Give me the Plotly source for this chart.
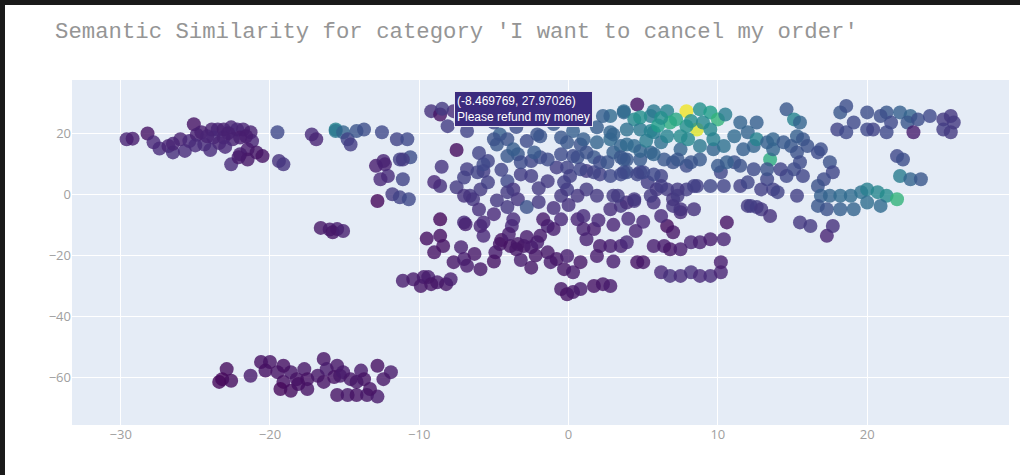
import plotly.graph_objects as go

# (x, y, similarity), grouped by region
far_left = [
    (-29.6, 18.0, 0.10), (-29.2, 18.2, 0.08), (-28.2, 19.9, 0.05), (-27.4, 15.0, 0.12), (-26.8, 15.8, 0.10),
    (-26.5, 13.7, 0.13), (-26.0, 18.0, 0.09), (-25.7, 14.2, 0.12), (-25.4, 17.4, 0.11), (-25.1, 22.9, 0.05),
    (-24.6, 20.3, 0.08), (-24.4, 16.3, 0.12), (-23.9, 21.2, 0.09), (-23.5, 21.2, 0.10), (-23.8, 18.6, 0.11),
    (-23.1, 21.2, 0.09), (-22.6, 21.9, 0.10), (-22.2, 21.2, 0.11), (-21.8, 21.2, 0.10), (-21.3, 20.3, 0.09),
    (-21.2, 17.4, 0.10), (-22.0, 18.6, 0.08), (-22.5, 18.0, 0.09), (-23.1, 18.6, 0.10), (-21.5, 14.7, 0.07),
    (-20.9, 13.7, 0.06), (-22.0, 13.1, 0.08), (-21.5, 11.4, 0.06), (-22.6, 9.8, 0.12), (-22.1, 12.1, 0.07),
    (-19.5, 20.3, 0.22), (-19.4, 10.9, 0.14), (-19.1, 9.8, 0.15), (-24.9, 19.5, 0.09), (-23.4, 16.8, 0.10),
    (-20.5, 12.5, 0.05), (-24.2, 19.0, 0.10), (-22.8, 20.0, 0.09), (-21.6, 19.0, 0.08), (-23.0, 15.5, 0.11),
    (-24.0, 14.5, 0.12), (-26.5, 16.5, 0.10), (-27.8, 17.0, 0.11), (-25.0, 16.0, 0.12),
]

mid_left = [
    (-17.2, 19.6, 0.12), (-16.9, 18.0, 0.10), (-15.6, 21.2, 0.45), (-15.6, 20.7, 0.40), (-15.1, 20.3, 0.32),
    (-14.8, 18.0, 0.20), (-14.6, 16.3, 0.18), (-14.2, 20.7, 0.26), (-13.7, 21.2, 0.24), (-12.5, 20.3, 0.22),
    (-11.5, 18.0, 0.20), (-10.8, 18.0, 0.22), (-11.3, 11.4, 0.19), (-10.6, 12.1, 0.24), (-12.9, 9.3, 0.08),
    (-12.4, 10.9, 0.10), (-12.3, 9.8, 0.09), (-12.1, 6.0, 0.12), (-12.6, 4.9, 0.11), (-11.1, 4.9, 0.20),
    (-12.8, -2.2, 0.02), (-11.8, 0.0, 0.17), (-11.3, -1.0, 0.20), (-10.7, -1.6, 0.22), (-11.1, 11.4, 0.17),
    (-16.6, -11.0, 0.06), (-16.0, -11.5, 0.07), (-15.5, -11.4, 0.08), (-15.8, -12.4, 0.06), (-15.1, -12.0, 0.09),
]

low_left = [
    (-11.1, -28.3, 0.08), (-10.4, -27.8, 0.07), (-9.9, -30.0, 0.06), (-9.4, -27.1, 0.08), (-8.8, -28.8, 0.07),
    (-8.2, -29.4, 0.06), (-7.9, -27.8, 0.08), (-9.7, -27.1, 0.07), (-9.2, -29.4, 0.06),
]

bottom = [
    (-22.9, -57.2, 0.03), (-23.2, -60.5, 0.02), (-22.6, -61.0, 0.03), (-23.4, -61.4, 0.02), (-21.3, -59.4, 0.07),
    (-20.6, -54.9, 0.04), (-20.0, -54.9, 0.05), (-20.3, -57.7, 0.04), (-19.5, -58.2, 0.05), (-19.1, -61.4, 0.04),
    (-19.3, -63.7, 0.02), (-18.6, -64.3, 0.03), (-18.6, -58.2, 0.06), (-18.2, -60.5, 0.05), (-17.7, -57.2, 0.06),
    (-17.5, -60.5, 0.04), (-17.5, -63.7, 0.05), (-16.8, -59.4, 0.06), (-16.4, -53.9, 0.05), (-16.2, -57.2, 0.07),
    (-15.5, -56.1, 0.06), (-15.7, -59.8, 0.05), (-15.3, -59.4, 0.06), (-15.1, -58.2, 0.07), (-14.6, -60.5, 0.06),
    (-13.9, -57.7, 0.07), (-13.7, -60.5, 0.05), (-14.2, -61.4, 0.06), (-12.8, -56.1, 0.04), (-11.9, -58.2, 0.07),
    (-12.4, -60.5, 0.06), (-15.5, -65.7, 0.05), (-14.8, -65.7, 0.06), (-14.2, -65.7, 0.05), (-13.5, -65.7, 0.06),
    (-12.8, -66.2, 0.07), (-13.3, -63.7, 0.05), (-19.1, -56.1, 0.04), (-16.4, -61.4, 0.05), (-18.1, -62.1, 0.04),
]

center = [
    (-9.2, 27.2, 0.14), (-8.6, 26.1, 0.05), (-7.7, 27.2, 0.12), (-8.47, 27.97, 0.17), (-8.1, 22.3, 0.18),
    (-6.8, 20.7, 0.20), (-7.5, 14.5, 0.03), (-4.6, 19.6, 0.30), (-4.8, 16.3, 0.27), (-4.1, 18.0, 0.25),
    (-3.4, 13.1, 0.27), (-2.8, 17.4, 0.23), (-2.1, 19.6, 0.25), (-2.5, 10.9, 0.21), (-1.9, 12.1, 0.23),
    (-3.2, 6.5, 0.18), (-4.1, 4.3, 0.22), (-5.4, 10.9, 0.20), (-5.7, 7.6, 0.18), (-0.5, 18.6, 0.27),
    (0.3, 20.7, 0.30), (0.8, 16.3, 0.25), (-0.5, 13.1, 0.23), (-0.8, 8.8, 0.18), (-0.1, 8.8, 0.20),
    (0.6, 12.1, 0.25), (1.7, 12.1, 0.27), (1.2, 7.6, 0.17), (2.1, 6.5, 0.19), (1.9, 21.9, 0.29),
    (-1.4, 4.3, 0.17), (-0.3, 3.9, 0.19), (-5.0, 18.0, 0.25), (-4.1, 12.5, 0.27), (-3.7, 14.7, 0.29),
    (-3.2, 10.5, 0.23), (-2.3, 13.7, 0.28), (-1.9, 19.0, 0.26), (-1.4, 11.4, 0.23), (-2.5, 6.0, 0.18),
    (-8.6, 2.7, 0.14), (-7.5, 2.3, 0.17), (-6.8, 8.2, 0.18), (-6.1, 7.2, 0.20), (-6.6, -0.5, 0.16),
    (-5.9, 1.6, 0.17), (-5.4, 3.9, 0.19), (-5.7, 9.8, 0.22), (-7.0, 5.5, 0.19), (-6.4, -1.6, 0.15),
    (-7.0, -0.5, 0.14), (-3.7, 1.6, 0.15), (-4.1, 0.7, 0.17), (-3.4, -1.6, 0.15), (-2.8, -4.2, 0.25),
    (-4.1, -4.2, 0.16), (-3.7, -8.2, 0.12), (-3.8, -10.4, 0.11), (-8.6, -8.2, 0.02), (-7.0, -9.2, 0.12),
    (-8.6, -13.6, 0.04), (-8.4, -16.9, 0.05), (-7.2, -17.3, 0.09), (-5.7, -13.6, 0.11), (-5.9, -10.4, 0.10),
    (-5.7, -9.2, 0.11), (-6.9, -9.8, 0.09), (-7.7, -22.2, 0.06), (-7.0, -21.2, 0.08), (-6.8, -23.4, 0.07),
    (-5.9, -24.5, 0.06), (-4.9, -19.0, 0.07), (-4.6, -16.3, 0.06), (-3.9, -16.9, 0.05), (-3.4, -16.3, 0.06),
    (-3.0, -16.9, 0.06), (-2.5, -17.3, 0.07), (-2.1, -15.7, 0.08), (-4.5, -15.0, 0.05), (-3.5, -18.0, 0.06),
    (-2.8, -14.0, 0.07), (-4.0, -13.0, 0.08), (-1.4, -10.4, 0.09), (-1.7, -8.2, 0.07), (-0.5, -8.2, 0.11),
    (-1.0, -11.4, 0.08), (-1.9, -13.6, 0.07), (-1.4, -19.0, 0.06), (-1.2, -22.2, 0.07), (-0.8, -21.2, 0.06),
    (-0.3, -24.5, 0.06), (-0.1, -20.2, 0.08), (0.3, -25.5, 0.07), (-0.5, -31.0, 0.06), (-0.1, -32.7, 0.05),
    (0.3, -32.0, 0.06), (0.8, -31.0, 0.07), (1.7, -30.0, 0.05), (2.3, -29.4, 0.06), (2.8, -30.0, 0.07),
    (0.6, -8.2, 0.10), (1.0, -7.1, 0.12), (1.0, -11.4, 0.09), (1.7, -11.4, 0.08), (1.2, -14.7, 0.09),
    (2.1, -16.9, 0.07), (2.8, -16.9, 0.08), (3.5, -16.9, 0.09), (3.9, -15.7, 0.11), (1.9, -20.2, 0.07),
    (0.8, -22.2, 0.06), (4.4, -2.2, 0.15), (3.0, -0.5, 0.17), (3.5, -3.8, 0.15), (2.8, -4.9, 0.13),
    (1.9, -0.5, 0.16), (1.2, 1.6, 0.17), (0.6, -0.5, 0.15), (-0.1, 1.6, 0.18), (-0.5, -0.5, 0.16),
    (0.1, 6.0, 0.19), (0.8, 8.2, 0.21), (1.7, 7.2, 0.20), (2.1, 10.5, 0.23), (1.2, 13.7, 0.25),
    (0.3, 12.5, 0.23), (-0.1, 17.0, 0.27), (1.0, 18.0, 0.29), (1.9, 17.0, 0.32), (2.8, 18.0, 0.34),
    (3.0, 13.7, 0.30), (3.9, 11.4, 0.27), (3.7, 7.2, 0.22), (4.8, 7.2, 0.20), (5.3, 3.9, 0.18),
    (5.9, 1.6, 0.16), (6.6, 1.6, 0.17), (7.0, -1.6, 0.15), (5.7, -2.7, 0.14), (3.9, -2.7, 0.13),
    (-6.0, -5.0, 0.13), (-5.0, -6.5, 0.11), (-4.8, -2.0, 0.16), (-2.0, -2.5, 0.16), (-1.0, -4.5, 0.13),
    (0.0, -3.5, 0.14), (2.0, -8.5, 0.11), (3.0, -10.0, 0.10), (4.0, -8.0, 0.12), (-2.2, -20.0, 0.06),
    (-3.2, -21.5, 0.07), (-5.0, -22.0, 0.05), (-6.3, -19.5, 0.06), (-2.5, -24.0, 0.06), (3.0, -22.0, 0.08),
    (4.5, -12.0, 0.10), (5.0, -9.0, 0.11), (-9.5, -14.5, 0.04), (-9.0, -19.0, 0.05), (-5.0, 23.5, 0.22),
    (-3.5, 22.0, 0.24), (-1.0, 23.0, 0.27), (0.8, 25.0, 0.29), (-6.0, 13.5, 0.20), (-4.5, 8.0, 0.20),
    (-2.0, 2.0, 0.17), (-8.5, 9.0, 0.15), (-9.0, 4.0, 0.11),
]

right_mid = [
    (6.6, -10.4, 0.03), (7.0, -12.4, 0.06), (5.7, -16.9, 0.08), (6.4, -16.9, 0.07), (6.8, -18.0, 0.06),
    (7.5, -18.0, 0.08), (8.2, -15.7, 0.10), (8.8, -15.7, 0.09), (9.5, -14.7, 0.08), (10.4, -14.7, 0.10),
    (10.6, -9.2, 0.05), (8.4, -4.9, 0.14), (7.5, -5.9, 0.12), (7.3, -0.5, 0.17), (7.9, 1.6, 0.18),
    (8.6, 2.7, 0.19), (9.5, 2.7, 0.21), (10.4, 2.7, 0.20), (11.5, 2.7, 0.19), (10.2, 7.2, 0.21),
    (11.1, 10.5, 0.25), (9.7, 14.7, 0.32), (8.8, 11.4, 0.28), (7.9, 9.3, 0.23), (7.0, 10.5, 0.25),
    (6.4, 11.4, 0.27), (7.5, 14.7, 0.32), (6.2, 17.0, 0.37), (12.0, -3.8, 0.17), (12.6, -4.2, 0.18),
    (13.7, 1.6, 0.19), (13.3, 4.9, 0.21), (6.2, -25.5, 0.11), (6.8, -26.7, 0.13), (7.5, -26.7, 0.12),
    (8.2, -25.5, 0.13), (8.8, -26.7, 0.11), (9.5, -26.7, 0.12), (10.2, -25.5, 0.10), (10.2, -22.2, 0.08),
    (4.6, -22.2, 0.05), (5.0, -22.2, 0.06), (6.2, -7.1, 0.12), (7.5, -4.9, 0.14), (7.0, -3.8, 0.15),
    (5.5, -0.5, 0.17), (4.4, -1.6, 0.16), (3.3, -0.5, 0.17),
]

upper_right = [
    (2.8, 25.6, 0.34), (3.7, 26.8, 0.32), (4.6, 29.4, 0.05), (4.4, 24.5, 0.47), (5.5, 25.6, 0.42),
    (6.6, 27.2, 0.44), (7.9, 27.2, 0.98), (8.8, 27.8, 0.50), (9.5, 26.8, 0.55), (10.0, 24.5, 0.65),
    (10.5, 26.1, 0.42), (8.6, 21.2, 0.95), (7.9, 22.3, 0.50), (6.8, 23.5, 0.62), (7.5, 19.0, 0.48),
    (6.6, 19.0, 0.45), (5.7, 20.3, 0.42), (4.8, 21.2, 0.40), (3.9, 21.2, 0.37), (2.8, 20.3, 0.32),
    (2.3, 25.6, 0.30), (3.5, 15.8, 0.32), (4.4, 15.8, 0.34), (5.5, 13.7, 0.32), (4.8, 11.4, 0.28),
    (3.7, 11.4, 0.27), (2.6, 10.5, 0.26), (2.8, 6.0, 0.22), (3.9, 7.2, 0.24), (5.0, 7.2, 0.22),
    (6.2, 6.0, 0.20), (7.3, 11.4, 0.27), (8.2, 10.5, 0.26), (8.8, 15.8, 0.40), (9.5, 21.2, 0.47),
    (9.7, 18.0, 0.44), (10.4, 15.8, 0.37), (10.6, 10.5, 0.30), (10.0, 9.3, 0.28), (8.4, 2.7, 0.19),
    (7.3, 1.6, 0.17), (6.2, 2.7, 0.18), (3.0, 19.6, 0.32), (3.7, 27.2, 0.35), (4.8, 25.2, 0.50),
    (3.9, 16.3, 0.34), (4.8, 14.2, 0.32), (3.5, 12.1, 0.27), (5.5, 20.7, 0.44), (5.7, 13.1, 0.32),
    (3.5, 6.5, 0.22), (4.6, 6.5, 0.21), (5.7, 6.5, 0.22), (5.7, 27.2, 0.40), (6.0, 22.5, 0.55),
    (7.2, 24.5, 0.60), (8.2, 24.0, 0.50), (9.0, 23.5, 0.47), (6.2, 25.0, 0.50), (8.0, 18.0, 0.47),
    (5.2, 17.5, 0.42),
]

far_right = [
    (11.5, 23.5, 0.32), (12.6, 23.5, 0.30), (12.0, 20.3, 0.32), (11.1, 19.0, 0.34), (12.4, 15.8, 0.32),
    (11.7, 14.7, 0.30), (12.6, 18.0, 0.45), (11.5, 9.3, 0.25), (12.4, 8.2, 0.23), (12.0, 3.9, 0.21),
    (12.9, 1.6, 0.19), (12.2, -3.8, 0.18), (12.9, -4.9, 0.16), (13.5, -7.1, 0.14), (14.0, 0.7, 0.20),
    (13.5, 11.4, 0.62), (13.3, 8.2, 0.25), (13.7, 14.7, 0.32), (13.3, 17.0, 0.30), (13.7, 18.0, 0.32),
    (14.6, 27.8, 0.27), (15.1, 24.5, 0.45), (15.5, 23.5, 0.32), (15.3, 19.0, 0.30), (15.7, 18.0, 0.27),
    (16.0, 15.8, 0.25), (14.9, 15.8, 0.27), (14.4, 17.0, 0.28), (15.3, 13.7, 0.25), (15.5, 10.5, 0.23),
    (15.1, 8.2, 0.23), (15.7, 6.0, 0.21), (16.7, 13.7, 0.23), (17.5, 10.5, 0.25), (17.7, 7.2, 0.21),
    (17.1, 4.9, 0.23), (16.7, 2.7, 0.25), (16.9, -0.5, 0.30), (17.5, -0.5, 0.32), (18.2, -0.5, 0.34),
    (18.9, -0.5, 0.35), (19.6, 0.7, 0.37), (20.0, 1.6, 0.43), (20.7, 0.7, 0.46), (21.3, -0.5, 0.48),
    (22.0, -1.6, 0.65), (16.7, -3.8, 0.27), (17.3, -4.9, 0.25), (18.2, -4.9, 0.30), (19.1, -4.9, 0.32),
    (20.0, -2.7, 0.36), (20.9, -3.8, 0.34), (15.3, -0.5, 0.19), (15.5, -9.2, 0.16), (16.2, -10.4, 0.17),
    (17.3, -13.6, 0.10), (17.7, -10.4, 0.14), (18.2, 26.8, 0.27), (18.6, 28.9, 0.24), (19.1, 23.5, 0.22),
    (18.0, 21.2, 0.20), (18.6, 20.3, 0.22), (20.0, 26.8, 0.24), (20.0, 21.2, 0.22), (21.3, 26.8, 0.27),
    (21.6, 23.5, 0.22), (22.2, 26.8, 0.30), (22.9, 25.6, 0.32), (22.7, 23.5, 0.27), (23.4, 24.5, 0.24),
    (21.3, 20.3, 0.22), (23.1, 20.3, 0.08), (24.2, 25.6, 0.22), (25.1, 24.5, 0.17), (25.6, 25.6, 0.16),
    (25.8, 23.5, 0.17), (25.1, 21.2, 0.18), (25.6, 20.3, 0.17), (22.0, 12.5, 0.22), (22.4, 11.4, 0.24),
    (22.2, 6.0, 0.42), (22.9, 4.9, 0.32), (23.6, 4.9, 0.27), (20.4, 21.2, 0.20), (20.9, 25.6, 0.24),
    (14.6, 6.0, 0.22), (14.2, 8.2, 0.20), (16.9, 14.7, 0.24),
]

hover_point = (-8.469769, 27.97026)
hover_text = "Please refund my money"
title_text = "Semantic Similarity for category 'I want to cancel my order'"
x_ticks = [-30, -20, -10, 0, 10, 20]
y_ticks = [-60, -40, -20, 0, 20]

points = far_left + mid_left + low_left + bottom + center + right_mid + upper_right + far_right
xs = [p[0] for p in points]
ys = [p[1] for p in points]
sims = [p[2] for p in points]

fig = go.Figure()
fig.add_trace(go.Scatter(
    x=xs, y=ys, mode="markers",
    marker=dict(size=14, color=sims, colorscale="Viridis", cmin=0, cmax=1,
                opacity=0.8, line=dict(width=0), showscale=False),
    hoverinfo="x+y",
))

fig.add_annotation(
    x=hover_point[0], y=hover_point[1], xref="x", yref="y",
    text=f"({hover_point[0]}, {hover_point[1]})<br>{hover_text}",
    showarrow=False, xanchor="left", yanchor="middle", xshift=12, align="left",
    font=dict(family="Arial, Liberation Sans, sans-serif", size=12, color="white"),
    bgcolor="#3b2b7e", bordercolor="#e8e8f0", borderwidth=1, borderpad=2,
)

# figure sits 5px in from the top-left corner; the page around it is the dark photo frame
fig.update_layout(
    width=1015, height=470,
    template="plotly",
    margin=dict(l=67, r=11, t=75, b=50),
    paper_bgcolor="white",
    plot_bgcolor="#e5ecf6",
    showlegend=False,
    title=dict(text=title_text, x=50 / 1015, xanchor="left", xref="container",
               y=1 - 25 / 470, yanchor="middle", yref="container",
               font=dict(family="Courier New, Liberation Mono, monospace", size=22.3, color="#959595")),
    xaxis=dict(range=[-33.26, 29.5], tickvals=x_ticks, gridcolor="white", zerolinecolor="white",
               zerolinewidth=1, showline=False, tickfont=dict(size=13, color="#a0a0a0")),
    yaxis=dict(range=[-75.5, 37.4], tickvals=y_ticks, gridcolor="white", zerolinecolor="white",
               zerolinewidth=1, showline=False, tickfont=dict(size=13, color="#a0a0a0")),
)

fig.write_html(
    "out.html", config={"displayModeBar": False},
    post_script=("document.body.style.margin='0px';"
                 "document.body.style.padding='5px 0 0 5px';"
                 "document.body.style.background='#1a1a1a';"
                 "document.body.style.overflow='hidden';"),
)
